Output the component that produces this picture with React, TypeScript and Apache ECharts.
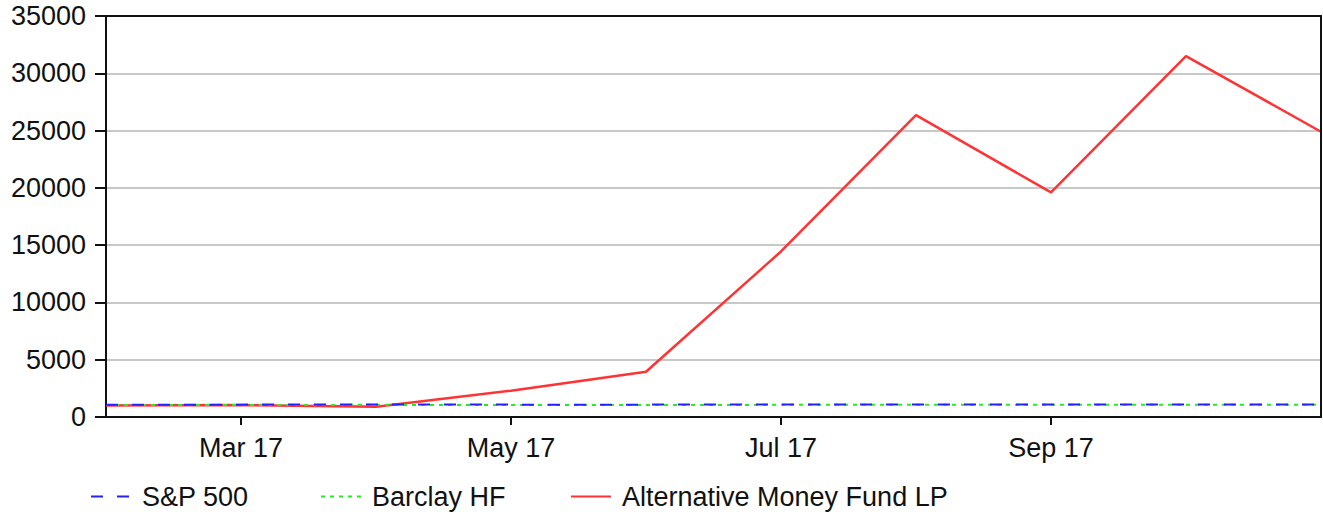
import React, { useEffect, useRef } from "react";
import * as echarts from "echarts";

const categories = ["Feb 17", "Mar 17", "Apr 17", "May 17", "Jun 17", "Jul 17", "Aug 17", "Sep 17", "Oct 17", "Nov 17"];
const labelledMonths = ["Mar 17", "May 17", "Jul 17", "Sep 17"];
const sp500 = [1080, 1080, 1090, 1080, 1080, 1090, 1090, 1090, 1090, 1090];
const barclay = [1050, 1050, 1060, 1050, 1050, 1060, 1060, 1060, 1060, 1060];
const altFund = [1000, 1050, 900, 2300, 3950, 14450, 26350, 19600, 31500, 24900];
const yTicks = { min: 0, max: 35000, interval: 5000 };

const FONT = "Liberation Sans";

export default function App() {
  const ref = useRef<HTMLDivElement>(null);
  useEffect(() => {
    if (!ref.current) return;
    const chart = echarts.init(ref.current, undefined, { renderer: "svg" });
    const showLabelled = (i: number) => labelledMonths.includes(categories[i]);
    const legendText = { fontFamily: FONT, fontSize: 27, color: "#111", padding: [0, 0, 0, 6] };
    const legendBase = { top: 478, itemWidth: 40, itemHeight: 14, itemStyle: { opacity: 0 }, textStyle: legendText };
    const frameLine = { show: true, onZero: false, lineStyle: { color: "#111", width: 2 } };
    chart.setOption({
      animation: false,
      backgroundColor: "#fff",
      grid: { left: 106, right: 2, top: 16, bottom: 95, outerBoundsMode: "none", containLabel: false },
      legend: [
        { ...legendBase, data: ["S&P 500"], left: 85 },
        { ...legendBase, data: ["Barclay HF"], left: 315 },
        { ...legendBase, data: ["Alternative Money Fund LP"], left: 565 },
      ],
      xAxis: [
        {
          type: "category",
          data: categories,
          boundaryGap: false,
          axisLine: frameLine,
          axisTick: { show: true, interval: showLabelled, length: 8, lineStyle: { color: "#111", width: 2 } },
          axisLabel: { interval: showLabelled, fontFamily: FONT, fontSize: 27, color: "#111", margin: 17 },
          splitLine: { show: false },
          z: 10,
        },
        {
          type: "category",
          data: categories,
          position: "top",
          boundaryGap: false,
          axisLine: frameLine,
          axisTick: { show: false },
          axisLabel: { show: false },
          splitLine: { show: false },
          z: 10,
        },
      ],
      yAxis: [
        {
          type: "value",
          min: yTicks.min,
          max: yTicks.max,
          interval: yTicks.interval,
          axisLine: frameLine,
          axisTick: { show: true, length: 11, lineStyle: { color: "#111", width: 2 } },
          axisLabel: { fontFamily: FONT, fontSize: 27, color: "#111", margin: 20, formatter: (v: number) => String(v) },
          splitLine: { lineStyle: { color: "#c8c8c8", width: 2 } },
          z: 0,
        },
        {
          type: "value",
          position: "right",
          min: yTicks.min,
          max: yTicks.max,
          interval: yTicks.interval,
          axisLine: frameLine,
          axisTick: { show: false },
          axisLabel: { show: false },
          splitLine: { show: false },
          z: 10,
        },
      ],
      series: [
        { name: "S&P 500", type: "line", data: sp500, symbol: "none", color: "#2222ff", lineStyle: { color: "#2222ff", width: 2, type: [12, 14] }, z: 3 },
        { name: "Barclay HF", type: "line", data: barclay, symbol: "none", color: "#22ee22", lineStyle: { color: "#22ee22", width: 2, type: [4, 5] }, z: 2 },
        { name: "Alternative Money Fund LP", type: "line", data: altFund, symbol: "none", color: "#ff3333", lineStyle: { color: "#ff3333", width: 2.5 }, z: 1 },
      ],
    });
    return () => chart.dispose();
  }, []);
  return <div ref={ref} style={{ position: "fixed", left: 0, top: 0, width: 1323, height: 512 }} />;
}
